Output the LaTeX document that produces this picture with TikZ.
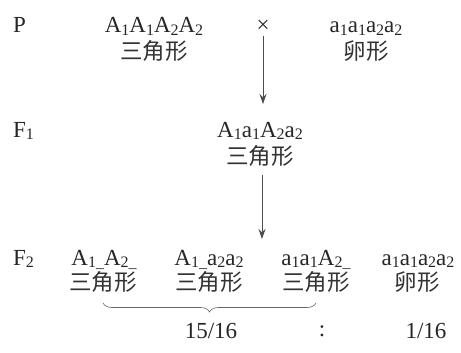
\documentclass[tikz,border=0pt]{standalone}
\usepackage{fontspec}
\setmainfont{Liberation Serif}
\newfontfamily\cjk{Noto Sans CJK SC}
\usetikzlibrary{decorations.pathreplacing,arrows.meta}
\newcommand\sbs[1]{\raisebox{-0.28ex}{\fontsize{16}{16}\selectfont #1}}
\tikzset{
  lat/.style={inner sep=0pt, font=\fontsize{23}{25}\selectfont, text=black!85},
  geno/.style={lat, anchor=base},
  pheno/.style={inner sep=0pt, font=\fontsize{22.5}{24}\selectfont\cjk, text=black!80},
  arr/.style={draw=black!70, line width=0.8pt, -{Stealth[length=10pt,width=7pt]}},
  brc/.style={draw=black!60, line width=0.6pt, decorate, decoration={brace, mirror, amplitude=9pt}}
}
\begin{document}
\begin{tikzpicture}[x=1pt,y=-1pt]
\useasboundingbox (0,0) rectangle (461,353);
% row labels
\node[geno, anchor=base west] (p) at (13,33) {P};
\node[geno, anchor=base west] (f1l) at (13,137) {F\sbs{1}};
\node[geno, anchor=base west] (f2l) at (13,265) {F\sbs{2}};
% P row
\node[geno] (pg1) at (154,33) {A\sbs{1}A\sbs{1}A\sbs{2}A\sbs{2}};
\node[pheno] (pp1) at (154,51) {三角形};
\node[lat] (cross) at (263,26) {×};
\node[geno] (pg2) at (366,33) {a\sbs{1}a\sbs{1}a\sbs{2}a\sbs{2}};
\node[pheno] (pp2) at (366,51) {卵形};
% F1 row
\node[geno] (f1g) at (260,137) {A\sbs{1}a\sbs{1}A\sbs{2}a\sbs{2}};
\node[pheno] (f1p) at (260,156) {三角形};
% F2 row
\node[geno] (g1) at (104,265) {A\sbs{1\_}A\sbs{2\_}};
\node[pheno] (t1) at (103,282) {三角形};
\node[geno] (g2) at (209,265) {A\sbs{1\_}a\sbs{2}a\sbs{2}};
\node[pheno] (t2) at (209,282) {三角形};
\node[geno] (g3) at (316,265) {a\sbs{1}a\sbs{1}A\sbs{2\_}};
\node[pheno] (t3) at (316,282) {三角形};
\node[geno] (g4) at (418,265) {a\sbs{1}a\sbs{1}a\sbs{2}a\sbs{2}};
\node[pheno] (t4) at (417,282) {卵形};
% ratios
\node[lat] (r1) at (211,331) {15/16};
\node[lat] (colon) at (322,331) {:};
\node[lat] (r2) at (426,331) {1/16};
% arrows
\coordinate (a1e) at (263,104);
\coordinate (a2e) at (262,239);
\draw[arr] (cross.south) ++(0,4) -- (a1e);
\draw[arr] (f1p.south) ++(2,8) -- (a2e);
% brace
\draw[brc] (t1.south |- 0,303) -- (t3.south |- 0,303);
\end{tikzpicture}
\end{document}
